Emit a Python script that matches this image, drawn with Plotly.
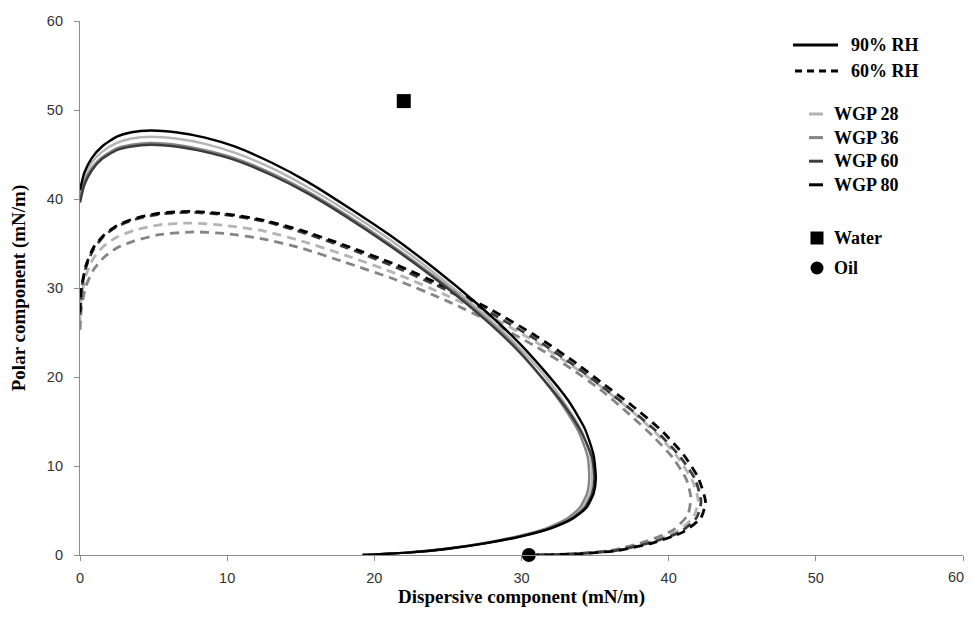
import plotly.graph_objects as go

# ---------------- data ----------------
# 90% RH envelopes (solid)
s28_x = [0.0, 0.3, 0.8, 1.5, 2.5, 3.5, 4.8, 6.5, 8.5, 10.5, 13.0, 15.5, 18.0, 21.0, 24.0, 27.0, 29.5, 31.5, 33.0, 34.1, 34.7, 34.8, 34.65, 34.15, 33.25, 31.8, 29.8, 27.4, 24.9, 22.4, 19.2]
s28_y = [40.8, 42.6, 44.1, 45.3, 46.3, 46.8, 47.0, 46.8, 46.2, 45.2, 43.5, 41.3, 38.8, 35.5, 31.8, 27.7, 23.9, 20.3, 16.9, 13.9, 11.0, 8.6, 6.9, 5.3, 4.1, 3.0, 2.1, 1.3, 0.7, 0.3, 0.0]

s36_x = [0.0, 0.3, 0.8, 1.5, 2.5, 3.5, 4.8, 6.5, 8.5, 10.5, 13.0, 15.5, 18.0, 21.0, 24.0, 27.0, 29.5, 31.3, 32.8, 33.9, 34.5, 34.6, 34.45, 33.95, 33.1, 31.7, 29.7, 27.3, 24.8, 22.3, 19.2]
s36_y = [40.2, 42.0, 43.5, 44.7, 45.7, 46.1, 46.3, 46.1, 45.5, 44.6, 42.9, 40.8, 38.3, 35.0, 31.4, 27.4, 23.6, 20.1, 16.8, 13.8, 11.0, 8.6, 6.9, 5.3, 4.1, 3.0, 2.1, 1.3, 0.7, 0.3, 0.0]

s60_x = [0.0, 0.3, 0.8, 1.5, 2.5, 3.5, 4.8, 6.5, 8.5, 10.5, 13.0, 15.5, 18.0, 21.0, 24.0, 27.0, 29.5, 31.4, 33.0, 34.1, 34.8, 34.95, 34.8, 34.3, 33.4, 31.9, 29.9, 27.5, 25.0, 22.5, 19.2]
s60_y = [39.6, 41.6, 43.2, 44.5, 45.5, 45.9, 46.1, 45.9, 45.3, 44.4, 42.7, 40.6, 38.1, 34.8, 31.2, 27.2, 23.4, 19.9, 16.6, 13.7, 10.9, 8.6, 6.9, 5.3, 4.1, 3.0, 2.1, 1.3, 0.7, 0.3, 0.0]

s80_x = [0.0, 0.3, 0.8, 1.5, 2.5, 3.5, 4.8, 6.5, 8.5, 10.5, 13.0, 15.5, 18.0, 21.0, 24.0, 27.0, 29.5, 31.5, 33.2, 34.3, 34.9, 35.05, 34.9, 34.4, 33.5, 32.0, 30.0, 27.5, 25.0, 22.5, 19.2]
s80_y = [41.0, 43.0, 44.6, 45.9, 47.0, 47.5, 47.7, 47.5, 46.9, 45.9, 44.1, 41.9, 39.3, 36.0, 32.3, 28.2, 24.4, 20.8, 17.3, 14.2, 11.2, 8.6, 6.9, 5.3, 4.1, 3.0, 2.1, 1.3, 0.7, 0.3, 0.0]

# 60% RH envelopes (dashed)
d28_x = [0.0, 0.1, 0.4, 0.9, 1.6, 2.5, 3.7, 5.4, 7.5, 10.0, 12.5, 15.0, 18.0, 21.5, 25.0, 28.0, 31.0, 33.5, 35.5, 37.4, 39.2, 40.6, 41.6, 42.0, 41.7, 40.6, 38.6, 36.3, 33.8, 31.0]
d28_y = [26.3, 29.0, 31.4, 33.3, 34.7, 35.7, 36.5, 37.1, 37.3, 37.0, 36.4, 35.3, 33.7, 31.6, 29.1, 26.7, 23.9, 21.2, 18.8, 16.3, 13.6, 11.0, 8.4, 6.2, 4.3, 2.7, 1.4, 0.5, 0.15, 0.0]

d36_x = [0.0, 0.1, 0.4, 0.9, 1.6, 2.5, 3.7, 5.4, 7.8, 10.0, 12.5, 15.0, 18.0, 21.5, 25.0, 28.0, 31.0, 33.5, 35.5, 37.2, 38.9, 40.3, 41.2, 41.5, 41.3, 40.3, 38.4, 36.2, 33.7, 31.0]
d36_y = [25.3, 27.8, 30.2, 32.0, 33.4, 34.5, 35.3, 36.0, 36.3, 36.1, 35.5, 34.5, 32.9, 30.9, 28.5, 26.1, 23.4, 20.8, 18.4, 16.0, 13.4, 10.9, 8.5, 6.5, 4.5, 2.8, 1.5, 0.55, 0.15, 0.0]

d60_x = [0.0, 0.1, 0.4, 0.9, 1.6, 2.5, 3.7, 5.4, 7.5, 10.0, 12.5, 15.0, 18.0, 21.5, 25.0, 28.0, 31.0, 33.5, 35.5, 37.4, 39.3, 40.8, 41.8, 42.2, 41.9, 40.8, 38.8, 36.4, 33.9, 31.0]
d60_y = [27.0, 29.8, 32.3, 34.3, 35.8, 36.9, 37.7, 38.3, 38.5, 38.2, 37.5, 36.3, 34.6, 32.3, 29.7, 27.1, 24.2, 21.4, 18.9, 16.4, 13.7, 11.0, 8.5, 6.0, 4.2, 2.6, 1.4, 0.5, 0.15, 0.0]

d80_x = [0.0, 0.1, 0.4, 0.9, 1.6, 2.5, 3.7, 5.4, 7.5, 10.0, 12.5, 15.0, 18.0, 21.5, 25.0, 28.0, 31.0, 33.5, 35.5, 37.5, 39.5, 41.0, 42.0, 42.5, 42.2, 41.0, 39.0, 36.5, 34.0, 31.0]
d80_y = [27.3, 30.0, 32.5, 34.5, 35.9, 37.0, 37.8, 38.4, 38.6, 38.3, 37.6, 36.5, 34.8, 32.6, 30.0, 27.5, 24.6, 21.8, 19.3, 16.8, 14.0, 11.3, 8.7, 6.0, 4.2, 2.6, 1.4, 0.5, 0.15, 0.0]

# probe liquids (dispersive, polar)
water_x = [22.0]
water_y = [51.0]
oil_x = [30.5]
oil_y = [0.0]

x_ticks = [0, 10, 20, 30, 40, 50, 60]
y_ticks = [0, 10, 20, 30, 40, 50, 60]

series_names = ["WGP 28", "WGP 36", "WGP 60", "WGP 80"]
series_colors = ["#b4b4b4", "#858585", "#3c3c3c", "#000000"]
rh_names = ["90% RH", "60% RH"]

solid_series = [(s28_x, s28_y), (s36_x, s36_y), (s60_x, s60_y), (s80_x, s80_y)]
dashed_series = [(d28_x, d28_y), (d36_x, d36_y), (d60_x, d60_y), (d80_x, d80_y)]

fig = go.Figure()

for (xs, ys), name, col in zip(dashed_series, series_names, series_colors):
    fig.add_trace(go.Scatter(
        x=xs, y=ys, mode="lines", name=name + " 60% RH", showlegend=False,
        line=dict(color=col, width=2.8, dash="9px,6px", shape="spline", smoothing=0.6),
        cliponaxis=False))

for (xs, ys), name, col in zip(solid_series, series_names, series_colors):
    fig.add_trace(go.Scatter(
        x=xs, y=ys, mode="lines", name=name + " 90% RH", showlegend=False,
        line=dict(color=col, width=2.4, shape="spline", smoothing=0.6),
        cliponaxis=False))

fig.add_trace(go.Scatter(x=water_x, y=water_y, mode="markers", name="Water", showlegend=False,
                         marker=dict(symbol="square", size=14, color="black"), cliponaxis=False))
fig.add_trace(go.Scatter(x=oil_x, y=oil_y, mode="markers", name="Oil", showlegend=False,
                         marker=dict(symbol="circle", size=14, color="black"), cliponaxis=False))

# ---------------- layout geometry ----------------
# page has an 8px body margin, so the figure is drawn offset by (8, 8)
OFF = 8
W, H = 972 - OFF, 600
PL, PR, PT, PB = 80, 963, 21, 555          # plot area in page pixels
L, R, T, B = PL - OFF, (OFF + W) - PR, PT - OFF, (OFF + H) - PB
PW, PH = PR - PL, PB - PT


def px(xp):
    return (xp - PL) / PW


def py(yp):
    return (PB - yp) / PH


shapes = []
annotations = []
legend_font = dict(family="Liberation Serif", size=18, color="black")

# RH entries
shapes.append(dict(type="line", xref="paper", yref="paper", x0=px(793), x1=px(838), y0=py(45), y1=py(45),
                   line=dict(color="black", width=3)))
annotations.append(dict(xref="paper", yref="paper", x=px(849), y=py(45), xanchor="left", yanchor="middle",
                        text="<b>" + rh_names[0] + "</b>", showarrow=False, font=legend_font))
shapes.append(dict(type="line", xref="paper", yref="paper", x0=px(795), x1=px(838), y0=py(71), y1=py(71),
                   line=dict(color="black", width=3, dash="7px,5px")))
annotations.append(dict(xref="paper", yref="paper", x=px(849), y=py(71), xanchor="left", yanchor="middle",
                        text="<b>" + rh_names[1] + "</b>", showarrow=False, font=legend_font))

for i, (name, col) in enumerate(zip(series_names, series_colors)):
    yy = 114 + i * 23.6
    shapes.append(dict(type="line", xref="paper", yref="paper", x0=px(809), x1=px(823), y0=py(yy), y1=py(yy),
                       line=dict(color=col, width=3)))
    annotations.append(dict(xref="paper", yref="paper", x=px(832), y=py(yy), xanchor="left", yanchor="middle",
                            text="<b>" + name + "</b>", showarrow=False, font=legend_font))

# Water / Oil entries
shapes.append(dict(type="rect", xref="paper", yref="paper", xsizemode="pixel", ysizemode="pixel",
                   xanchor=px(817), yanchor=py(238), x0=-6.5, x1=6.5, y0=-6.5, y1=6.5,
                   fillcolor="black", line=dict(width=0)))
annotations.append(dict(xref="paper", yref="paper", x=px(832), y=py(238), xanchor="left", yanchor="middle",
                        text="<b>Water</b>", showarrow=False, font=legend_font))
shapes.append(dict(type="circle", xref="paper", yref="paper", xsizemode="pixel", ysizemode="pixel",
                   xanchor=px(817), yanchor=py(268), x0=-6.5, x1=6.5, y0=-6.5, y1=6.5,
                   fillcolor="black", line=dict(width=0)))
annotations.append(dict(xref="paper", yref="paper", x=px(832), y=py(268), xanchor="left", yanchor="middle",
                        text="<b>Oil</b>", showarrow=False, font=legend_font))

axis_title_font = dict(family="Liberation Serif", size=19, color="black")
tick_font = dict(family="Liberation Sans", size=14.5, color="#333333")

# last x tick label sits at the very edge of the page: draw it as an annotation kept inside
x_ticktext = [str(v) for v in x_ticks[:-1]] + [""]
annotations.append(dict(xref="paper", yref="paper", x=1.0, y=py(577), xanchor="right", yanchor="middle",
                        xshift=3, text=str(x_ticks[-1]), showarrow=False, font=tick_font))

fig.update_layout(
    width=W, height=H,
    margin=dict(l=L, r=R, t=T, b=B, autoexpand=False),
    paper_bgcolor="white", plot_bgcolor="white",
    showlegend=False,
    shapes=shapes, annotations=annotations,
    xaxis=dict(range=[0, 60], tickvals=x_ticks, ticktext=x_ticktext,
               showgrid=False, zeroline=False, showline=True, linecolor="#8c8c8c", linewidth=1.2,
               ticks="outside", ticklen=5, tickcolor="#8c8c8c", tickfont=tick_font,
               ticklabelstandoff=4,
               title=dict(text="<b>Dispersive component (mN/m)</b>", font=axis_title_font, standoff=8)),
    yaxis=dict(range=[0, 60], tickvals=y_ticks, ticktext=[str(v) for v in y_ticks],
               showgrid=False, zeroline=False, showline=True, linecolor="#8c8c8c", linewidth=1.2,
               ticks="outside", ticklen=5, tickcolor="#8c8c8c", tickfont=tick_font,
               ticklabelstandoff=8,
               title=dict(text="<b>Polar component (mN/m)</b>", font=axis_title_font, standoff=16)),
)

fig.write_html("out.html")
